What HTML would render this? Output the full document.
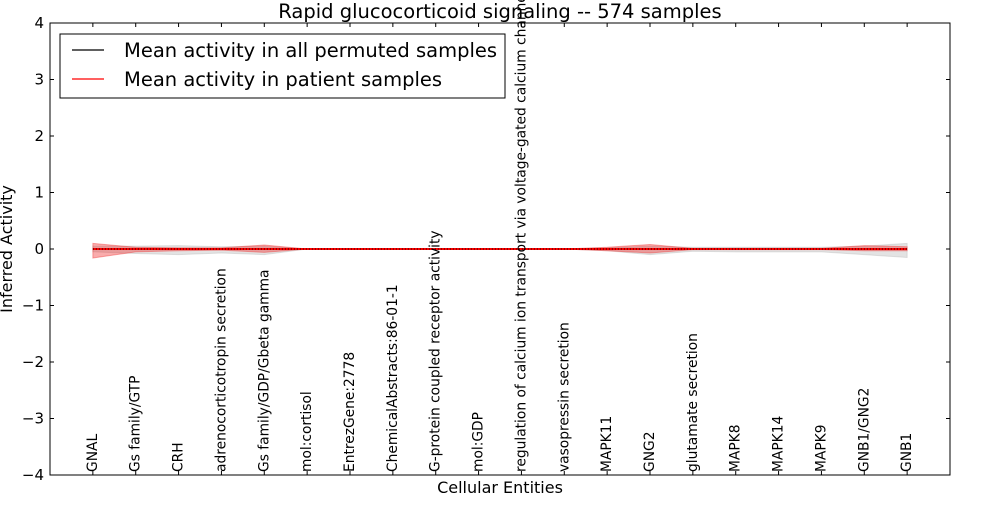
<!DOCTYPE html>
<html><head><meta charset="utf-8"><style>
body{margin:0;background:#fff;font-family:"Liberation Sans","DejaVu Sans",sans-serif}
</style></head><body>
<svg id="c" width="1000" height="500" xmlns="http://www.w3.org/2000/svg" font-family="DejaVu Sans, Liberation Sans, sans-serif"></svg>
<script>
const categories=["GNAL","Gs family/GTP","CRH","adrenocorticotropin secretion","Gs family/GDP/Gbeta gamma","mol:cortisol","EntrezGene:2778","ChemicalAbstracts:86-01-1","G-protein coupled receptor activity","mol:GDP","regulation of calcium ion transport via voltage-gated calcium channel activity","vasopressin secretion","MAPK11","GNG2","glutamate secretion","MAPK8","MAPK14","MAPK9","GNB1/GNG2","GNB1"];
const patientMean=[0,0,0,0,0,0,0,0,0,0,0,0,0,0,0,0,0,0,0,0];
const patientUpper=[0.1,0.03,0.02,0.02,0.07,0,0,0,0,0,0,0,0.03,0.08,0.01,0.01,0.01,0.01,0.06,0.04];
const patientLower=[-0.16,-0.05,-0.03,-0.02,-0.06,0,0,0,0,0,0,0,-0.03,-0.07,-0.01,-0.01,-0.01,-0.01,-0.03,-0.03];
const permMean=[0,0,0,0,0,0,0,0,0,0,0,0,0,0,0,0,0,0,0,0];
const permUpper=[0.05,0.05,0.06,0.04,0.05,0,0,0,0,0,0,0,0.02,0.05,0.03,0.03,0.03,0.03,0.05,0.1];
const permLower=[-0.05,-0.08,-0.1,-0.07,-0.1,0,0,0,0,0,0,0,-0.03,-0.1,-0.04,-0.05,-0.05,-0.05,-0.1,-0.15];
const yTicks=[-4,-3,-2,-1,0,1,2,3,4];

const svg=document.getElementById('c');const NS='http://www.w3.org/2000/svg';
const L=50,R=950,T=23,B=475;
const xs=i=>L+(i+1)*(R-L)/(categories.length+1);
const ys=v=>T+(4-v)*(B-T)/8;
function mk(t,a,p){const e=document.createElementNS(NS,t);for(const k in a)e.setAttribute(k,a[k]);(p||svg).appendChild(e);return e;}
function band(u,l,fill,op,name){
  let d='M'+u.map((v,i)=>xs(i)+','+ys(v)).join('L');
  for(let i=l.length-1;i>=0;i--)d+='L'+xs(i)+','+ys(l[i]);
  const p=mk('path',{d:d+'Z',fill:fill,'fill-opacity':op,stroke:fill,'stroke-opacity':op});
  
  
}
band(permUpper,permLower,'#b0b0b0',0.35,'permuted-band');
band(patientUpper,patientLower,'#f03030',0.4,'patient-band');
const lp=mk('polyline',{points:patientMean.map((v,i)=>xs(i)+','+ys(v)).join(' '),fill:'none',stroke:'#ff0000','stroke-width':2});


const lb=mk('polyline',{points:permMean.map((v,i)=>xs(i)+','+ys(v)).join(' '),fill:'none',stroke:'#000','stroke-width':1,'stroke-dasharray':'1,2'});


const fr=mk('rect',{x:L,y:T,width:R-L,height:B-T,fill:'none',stroke:'#000'});


yTicks.forEach(v=>{
  mk('line',{x1:L,x2:L+4,y1:ys(v),y2:ys(v),stroke:'#000'});
  mk('line',{x1:R,x2:R-4,y1:ys(v),y2:ys(v),stroke:'#000'});
  const t=mk('text',{x:L-6,y:ys(v)+5,'text-anchor':'end','font-size':15});
  t.textContent=(v<0?'\u2212'+(-v):v);
  
  
});
categories.forEach((c,i)=>{
  mk('line',{x1:xs(i),x2:xs(i),y1:B,y2:B-4,stroke:'#000'});
  mk('line',{x1:xs(i),x2:xs(i),y1:T,y2:T+4,stroke:'#000'});
  const t=mk('text',{transform:`translate(${xs(i)+4},${B-3}) rotate(-90)`,'font-size':13.8});
  t.textContent=c;
  
  
});
const ti=mk('text',{x:500,y:18,'text-anchor':'middle','font-size':19.5});ti.textContent='Rapid glucocorticoid signaling -- 574 samples';


const xt=mk('text',{x:500,y:493,'text-anchor':'middle','font-size':16});xt.textContent='Cellular Entities';


const yt=mk('text',{transform:'translate(12,249) rotate(-90)','text-anchor':'middle','font-size':16});yt.textContent='Inferred Activity';


const lg=mk('g',{});


mk('rect',{x:60,y:34,width:445,height:64,fill:'#fff',stroke:'#000'},lg);
mk('line',{x1:72,x2:104,y1:50,y2:50,stroke:'#000','stroke-width':1.2},lg);
mk('line',{x1:72,x2:104,y1:79,y2:79,stroke:'#ff0000','stroke-width':1.2},lg);
const e1=mk('text',{x:124,y:57,'font-size':19.5},lg);e1.textContent='Mean activity in all permuted samples';


const e2=mk('text',{x:124,y:86,'font-size':19.5},lg);e2.textContent='Mean activity in patient samples';


</script>
</body></html>
